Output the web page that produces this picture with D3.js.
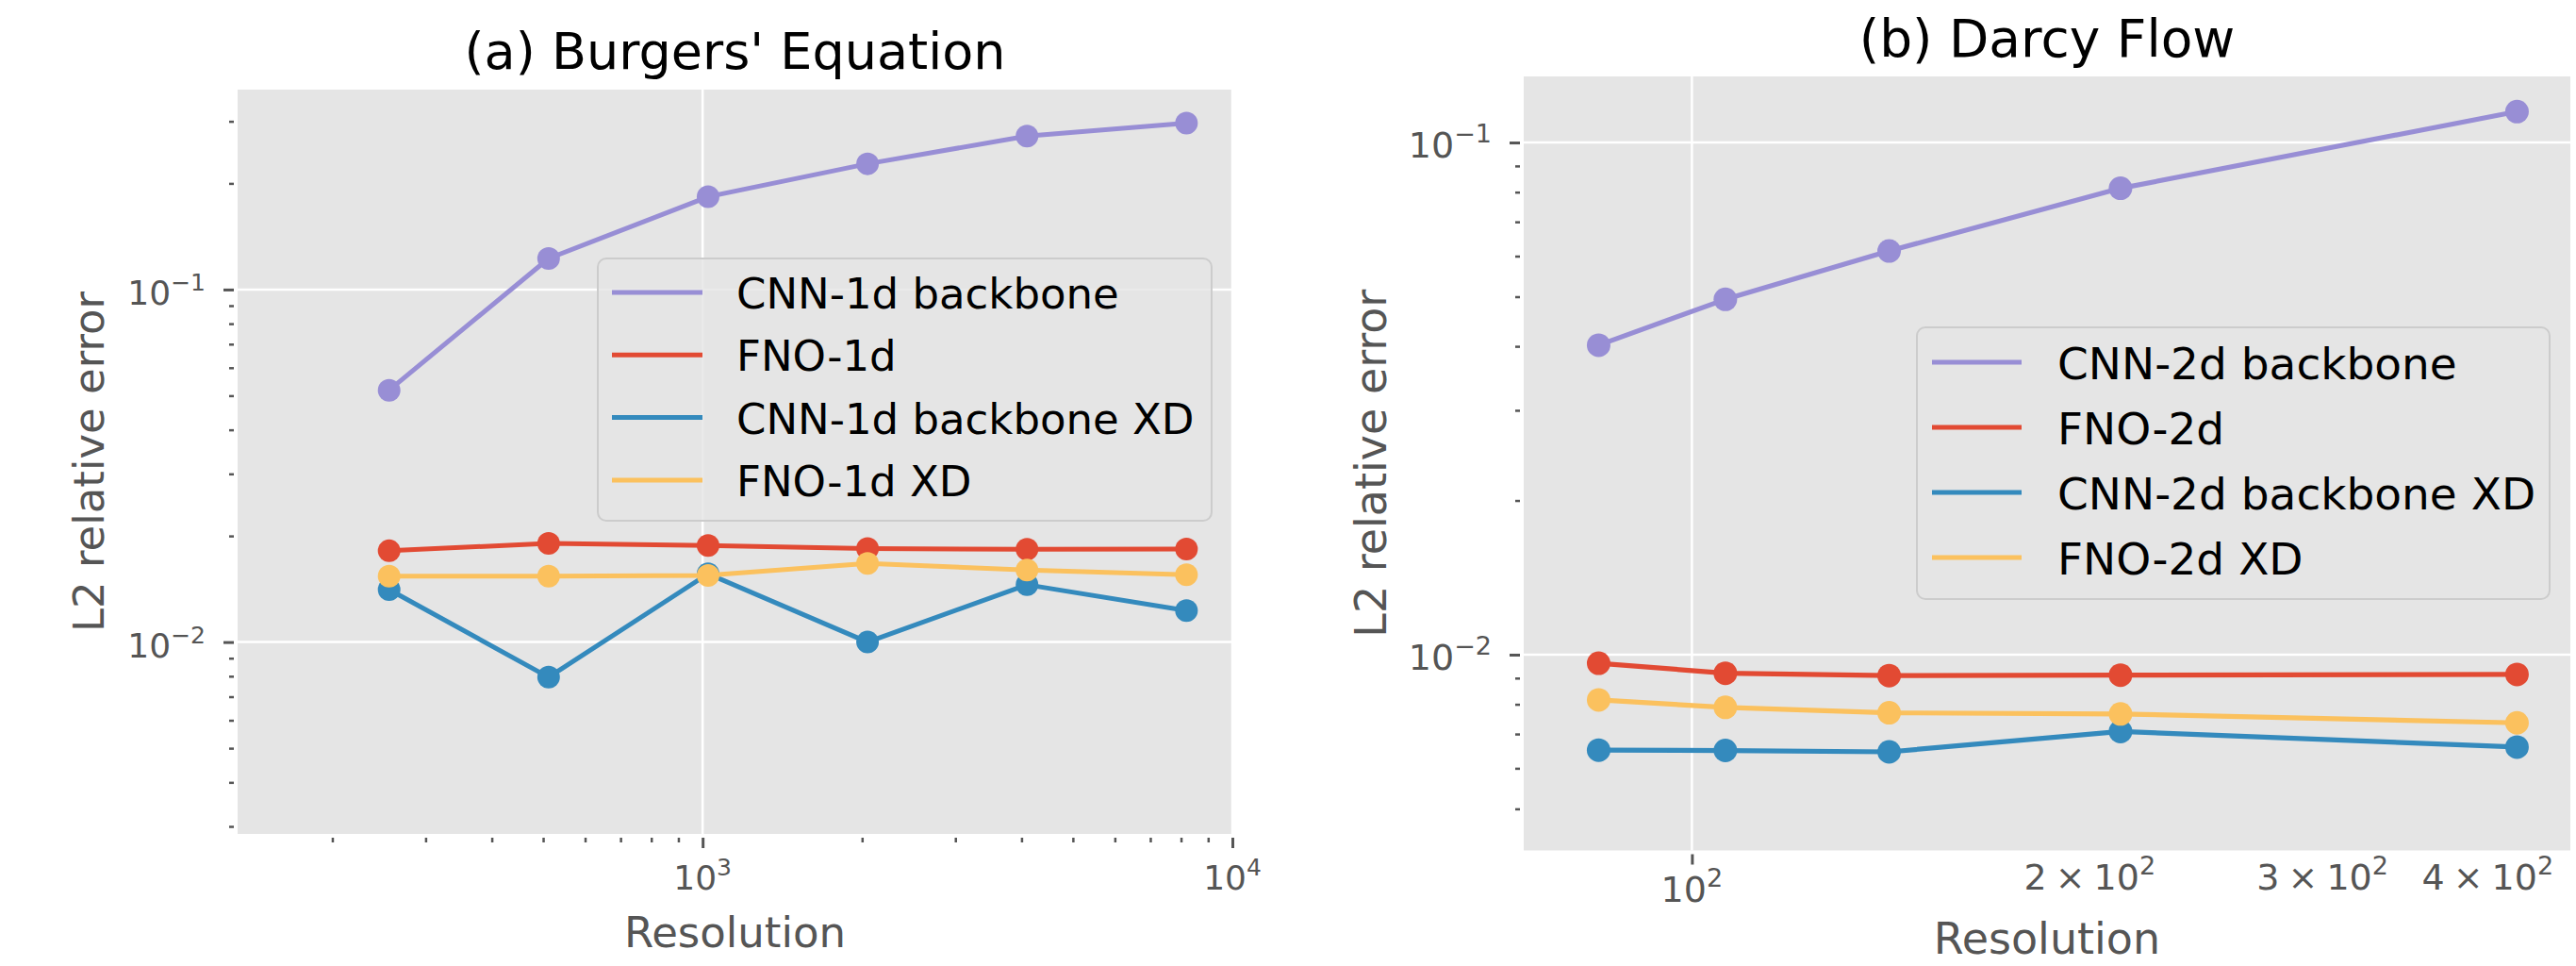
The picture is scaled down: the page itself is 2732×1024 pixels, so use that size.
<!DOCTYPE html>
<html>
<head>
<meta charset="utf-8">
<script src="https://cdn.jsdelivr.net/npm/d3@7"></script>
<style>
body { margin: 0; background: #fff; }
svg text { font-family: "DejaVu Sans", sans-serif; }
</style>
</head>
<body>
<svg id="chart" width="2732" height="1024"></svg>
<script>
// ---------- Data ----------
const burgersRes = [256, 512, 1024, 2048, 4096, 8192];
const burgersCnn = [0.0518, 0.1225, 0.1833, 0.2273, 0.2725, 0.2964];
const burgersFno = [0.01815, 0.01906, 0.01879, 0.01841, 0.01834, 0.01837];
const burgersCnnXd = [0.01409, 0.00795, 0.01562, 0.0100, 0.01454, 0.01228];
const burgersFnoXd = [0.01537, 0.01537, 0.01546, 0.01672, 0.01601, 0.01552];
const burgersNames = ["CNN-1d backbone", "FNO-1d", "CNN-1d backbone XD", "FNO-1d XD"];
const burgersXTicks = [1000, 10000];
const burgersYTicks = [0.01, 0.1];

const darcyRes = [85, 106, 141, 211, 421];
const darcyCnn = [0.0402, 0.0494, 0.0614, 0.0814, 0.1149];
const darcyFno = [0.00962, 0.00920, 0.00910, 0.00912, 0.00915];
const darcyCnnXd = [0.00651, 0.00650, 0.00646, 0.00708, 0.00660];
const darcyFnoXd = [0.00816, 0.00789, 0.00770, 0.00766, 0.00736];
const darcyNames = ["CNN-2d backbone", "FNO-2d", "CNN-2d backbone XD", "FNO-2d XD"];
const darcyXTicks = [100, 200, 300, 400];
const darcyYTicks = [0.01, 0.1];

const colors = ["#988ED5", "#E24A33", "#348ABD", "#FBC15E"];

const panels = [
    {
        title: "(a) Burgers' Equation", res: burgersRes,
        series: [burgersCnn, burgersFno, burgersCnnXd, burgersFnoXd], names: burgersNames,
        xTicks: burgersXTicks, yTicks: burgersYTicks, xMinor: true,
        xDomain: [132.5, 10000], yDomain: [0.002856, 0.369],
        left: 252, right: 1307, top: 95, bottom: 884,
        titleY: 73, titleSize: 54, labelSize: 45, xLabelY: 1004, yLabelX: 110,
        tickSize: 36, supSize: 25, supRaise: 15, yTickRight: 218, xTickY: 943, xTickYMinor: 943,
        lineW: 5, r: 12,
        legend: { x: 634, y: 274, w: 651, h: 278, lx1: 649, lx2: 745, tx: 781, y0: 310, step: 66.3, size: 45, base: 17 }
    },
    {
        title: "(b) Darcy Flow", res: darcyRes,
        series: [darcyCnn, darcyFno, darcyCnnXd, darcyFnoXd], names: darcyNames,
        xTicks: darcyXTicks, yTicks: darcyYTicks, xMinor: false,
        xDomain: [74.6, 462], yDomain: [0.004147, 0.1346],
        left: 1616, right: 2726, top: 81, bottom: 901.5,
        titleY: 60, titleSize: 55, labelSize: 46, xLabelY: 1011, yLabelX: 1470,
        tickSize: 38, supSize: 27, supRaise: 16, yTickRight: 1582, xTickY: 956, xTickYMinor: 943,
        lineW: 5.2, r: 12.5,
        legend: { x: 2033, y: 347, w: 671, h: 288, lx1: 2049, lx2: 2144, tx: 2182, y0: 384, step: 69, size: 47, base: 17.5 }
    }
];

const svg = d3.select("#chart");
panels.forEach(p => drawPanel(svg, p));

// ---------- Helpers ----------
function isPow10(v) {
    const l = Math.log10(v);
    return Math.abs(l - Math.round(l)) < 1e-6;
}

function sciLabel(sel, v, p) {
    const e = Math.floor(Math.log10(v) + 1e-9);
    const m = Math.round(v / Math.pow(10, e));
    const t = sel.append("text").attr("fill", "#555").attr("font-size", p.tickSize);
    if (m !== 1) {
        t.append("tspan").text(m);
        t.append("tspan").attr("dx", 9).text("\u00d7");
        t.append("tspan").attr("dx", 9).text("10");
    } else {
        t.append("tspan").text("10");
    }
    t.append("tspan").attr("dy", -p.supRaise).attr("font-size", p.supSize)
        .text(e < 0 ? "\u2212" + (-e) : e);
    return t;
}

function drawPanel(svg, p) {
    const x = d3.scaleLog().domain(p.xDomain).range([p.left, p.right]);
    const y = d3.scaleLog().domain(p.yDomain).range([p.bottom, p.top]);
    const g = svg.append("g");

    g.append("rect").attr("x", p.left).attr("y", p.top)
        .attr("width", p.right - p.left).attr("height", p.bottom - p.top)
        .attr("fill", "#E5E5E5");

    // grid on major ticks
    const xMajor = p.xTicks.filter(isPow10);
    g.selectAll(".hgrid").data(p.yTicks).join("line").attr("class", "hgrid")
        .attr("x1", p.left).attr("x2", p.right).attr("y1", d => y(d)).attr("y2", d => y(d))
        .attr("stroke", "#fff").attr("stroke-width", 2.5);
    g.selectAll(".vgrid").data(xMajor).join("line").attr("class", "vgrid")
        .attr("y1", p.top).attr("y2", p.bottom).attr("x1", d => x(d)).attr("x2", d => x(d))
        .attr("stroke", "#fff").attr("stroke-width", 2.5);

    // tick marks
    const yMinor = y.ticks().filter(d => !isPow10(d));
    const xMinorTicks = p.xMinor ? x.ticks().filter(d => !isPow10(d)) : [];
    const tickStyle = (a, w) => {
        a.select(".domain").remove();
        a.selectAll("line").attr("stroke", "#555").attr("stroke-width", w);
    };
    g.append("g").attr("transform", `translate(${p.left - 4},0)`)
        .call(d3.axisLeft(y).tickValues(p.yTicks).tickSize(11).tickSizeOuter(0).tickFormat(""))
        .call(a => tickStyle(a, 3));
    g.append("g").attr("transform", `translate(${p.left - 4},0)`)
        .call(d3.axisLeft(y).tickValues(yMinor).tickSize(5).tickSizeOuter(0).tickFormat(""))
        .call(a => tickStyle(a, 2.5));
    g.append("g").attr("transform", `translate(0,${p.bottom + 4})`)
        .call(d3.axisBottom(x).tickValues(xMajor).tickSize(11).tickSizeOuter(0).tickFormat(""))
        .call(a => tickStyle(a, 3));
    g.append("g").attr("transform", `translate(0,${p.bottom + 4})`)
        .call(d3.axisBottom(x).tickValues(xMinorTicks).tickSize(5).tickSizeOuter(0).tickFormat(""))
        .call(a => tickStyle(a, 2.5));

    // tick labels
    p.yTicks.forEach(v => sciLabel(g, v, p)
        .attr("x", p.yTickRight).attr("y", y(v) + 16).attr("text-anchor", "end"));
    p.xTicks.forEach(v => sciLabel(g, v, p)
        .attr("x", x(v)).attr("y", isPow10(v) ? p.xTickY : p.xTickYMinor).attr("text-anchor", "middle"));

    // series
    const line = d3.line().x((d, i) => x(p.res[i])).y(d => y(d));
    p.series.forEach((s, k) => {
        g.append("path").datum(s).attr("d", line)
            .attr("fill", "none").attr("stroke", colors[k]).attr("stroke-width", p.lineW)
            .attr("stroke-linejoin", "round");
        g.selectAll(".pt" + k).data(s).join("circle").attr("class", "pt" + k)
            .attr("cx", (d, i) => x(p.res[i])).attr("cy", d => y(d)).attr("r", p.r)
            .attr("fill", colors[k]);
    });

    // legend
    const L = p.legend;
    g.append("rect").attr("x", L.x).attr("y", L.y).attr("width", L.w).attr("height", L.h)
        .attr("rx", 9).attr("fill", "#E5E5E5").attr("fill-opacity", 0.8)
        .attr("stroke", "#CCCCCC").attr("stroke-width", 2);
    p.names.forEach((n, i) => {
        const ly = L.y0 + i * L.step;
        g.append("line").attr("x1", L.lx1).attr("x2", L.lx2).attr("y1", ly).attr("y2", ly)
            .attr("stroke", colors[i]).attr("stroke-width", p.lineW);
        g.append("text").attr("x", L.tx).attr("y", ly + L.base)
            .attr("font-size", L.size).attr("fill", "#000").text(n);
    });

    // titles
    const cx = (p.left + p.right) / 2, cy = (p.top + p.bottom) / 2;
    g.append("text").attr("x", cx).attr("y", p.titleY).attr("text-anchor", "middle")
        .attr("font-size", p.titleSize).attr("fill", "#000").text(p.title);
    g.append("text").attr("x", cx).attr("y", p.xLabelY).attr("text-anchor", "middle")
        .attr("font-size", p.labelSize).attr("fill", "#555").text("Resolution");
    g.append("text").attr("transform", `translate(${p.yLabelX},${cy}) rotate(-90)`)
        .attr("text-anchor", "middle").attr("font-size", p.labelSize).attr("fill", "#555")
        .text("L2 relative error");
}
</script>
</body>
</html>
